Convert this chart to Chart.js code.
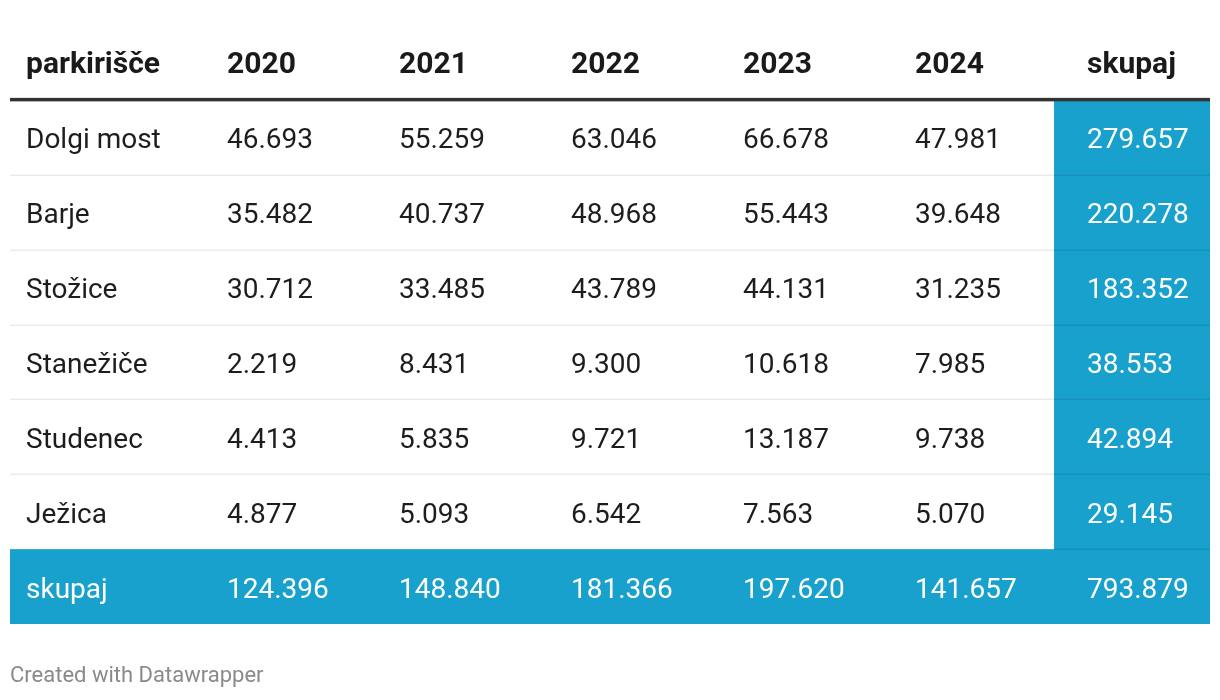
<!DOCTYPE html>
<html>
<head>
<meta charset="utf-8">
<script src="https://cdn.jsdelivr.net/npm/chart.js@4"></script>
<style>
  body { margin: 0; background: #fff; }
  canvas { display: block; }
</style>
</head>
<body>
<canvas id="table" width="1220" height="700"></canvas>
<script>
// columns and rows of the table
const columns = ["parkirišče", "2020", "2021", "2022", "2023", "2024", "skupaj"];
const lots = ["Dolgi most", "Barje", "Stožice", "Stanežiče", "Studenec", "Ježica"];
const totalLabel = "skupaj";

// values per year, one entry per parking lot
const y2020 = [46693, 35482, 30712, 2219, 4413, 4877];
const y2021 = [55259, 40737, 33485, 8431, 5835, 5093];
const y2022 = [63046, 48968, 43789, 9300, 9721, 6542];
const y2023 = [66678, 55443, 44131, 10618, 13187, 7563];
const y2024 = [47981, 39648, 31235, 7985, 9738, 5070];

// totals as printed
const lotTotals = [279657, 220278, 183352, 38553, 42894, 29145];
const yearTotals = [124396, 148840, 181366, 197620, 141657];
const grandTotal = 793879;

const yearValues = [y2020, y2021, y2022, y2023, y2024];
const rowLabels = ["header"].concat(lots, ["total"]);

const blue = "#19a1cd";
const blueLine = "#1691ba";
const font = "Roboto";

const fmt = function (n) {
  return String(n).replace(/\B(?=(\d{3})+(?!\d))/g, ".");
};

const tablePlugin = {
  id: "tablePlugin",
  beforeDraw(chart) {
    const ctx = chart.ctx;
    const x = chart.scales.x;
    const y = chart.scales.y;
    const area = chart.chartArea;
    const right = area.right - 4;
    const colW = x.getPixelForValue(1) - x.getPixelForValue(0);
    const rowH = y.getPixelForValue(1) - y.getPixelForValue(0);
    const rowTop = (i) => y.getPixelForValue(i) - rowH / 2;
    const blueLeft = x.getPixelForValue(6) - colW * 0.43;

    ctx.save();
    // blue totals column
    ctx.fillStyle = blue;
    ctx.fillRect(blueLeft, rowTop(1), right - blueLeft, area.bottom - rowTop(1));
    // blue totals row
    ctx.fillRect(area.left, rowTop(7), right - area.left, area.bottom - rowTop(7));

    // row separators
    for (let i = 2; i <= 7; i++) {
      const yy = Math.round(rowTop(i)) - 0.5;
      if (i < 7) {
        ctx.fillStyle = "#ebebeb";
        ctx.fillRect(area.left, yy, blueLeft - area.left, 1.5);
      }
      ctx.fillStyle = blueLine;
      ctx.fillRect(blueLeft, yy, right - blueLeft, 1.5);
    }

    // header rule
    ctx.fillStyle = "#333333";
    ctx.fillRect(area.left, rowTop(1) - 2, right - area.left, 3.5);
    ctx.restore();
  },
  afterDraw(chart) {
    const ctx = chart.ctx;
    const x = chart.scales.x;
    const y = chart.scales.y;
    const area = chart.chartArea;
    const textX = (c) => (c === 0 ? area.left + 16 : x.getPixelForValue(c) - 41);

    ctx.save();
    ctx.textBaseline = "middle";
    ctx.textAlign = "left";

    // header
    ctx.font = "bold 30px " + font;
    ctx.fillStyle = "#1a1a1a";
    columns.forEach((c, i) => {
      ctx.fillText(c, textX(i), y.getPixelForValue(0) + 3);
    });

    // body rows
    ctx.font = "28px " + font;
    lots.forEach((lot, r) => {
      const yy = y.getPixelForValue(r + 1) + 4;
      ctx.fillStyle = "#1d1d1d";
      ctx.fillText(lot, textX(0), yy);
      yearValues.forEach((vals, c) => {
        ctx.fillText(fmt(vals[r]), textX(c + 1), yy);
      });
      ctx.fillStyle = "#ffffff";
      ctx.fillText(fmt(lotTotals[r]), textX(6), yy);
    });

    // totals row
    const ty = y.getPixelForValue(7) + 4;
    ctx.fillStyle = "#ffffff";
    ctx.fillText(totalLabel, textX(0), ty);
    yearTotals.forEach((v, c) => {
      ctx.fillText(fmt(v), textX(c + 1), ty);
    });
    ctx.fillText(fmt(grandTotal), textX(6), ty);
    ctx.restore();
  },
};

new Chart(document.getElementById("table"), {
  type: "bar",
  data: {
    labels: columns,
    datasets: [],
  },
  options: {
    responsive: false,
    animation: false,
    layout: {
      padding: { top: 25, left: 10, right: 6, bottom: 6 },
    },
    scales: {
      x: { type: "category", display: false, offset: true },
      y: { type: "category", labels: rowLabels, display: false, offset: true },
    },
    plugins: {
      legend: { display: false },
      tooltip: { enabled: false },
      subtitle: {
        display: true,
        position: "bottom",
        align: "start",
        text: "Created with Datawrapper",
        color: "#8a8a8a",
        font: { family: font, size: 22, weight: "normal" },
        padding: { top: 39, bottom: 4.6 },
      },
    },
  },
  plugins: [tablePlugin],
});
</script>
</body>
</html>
